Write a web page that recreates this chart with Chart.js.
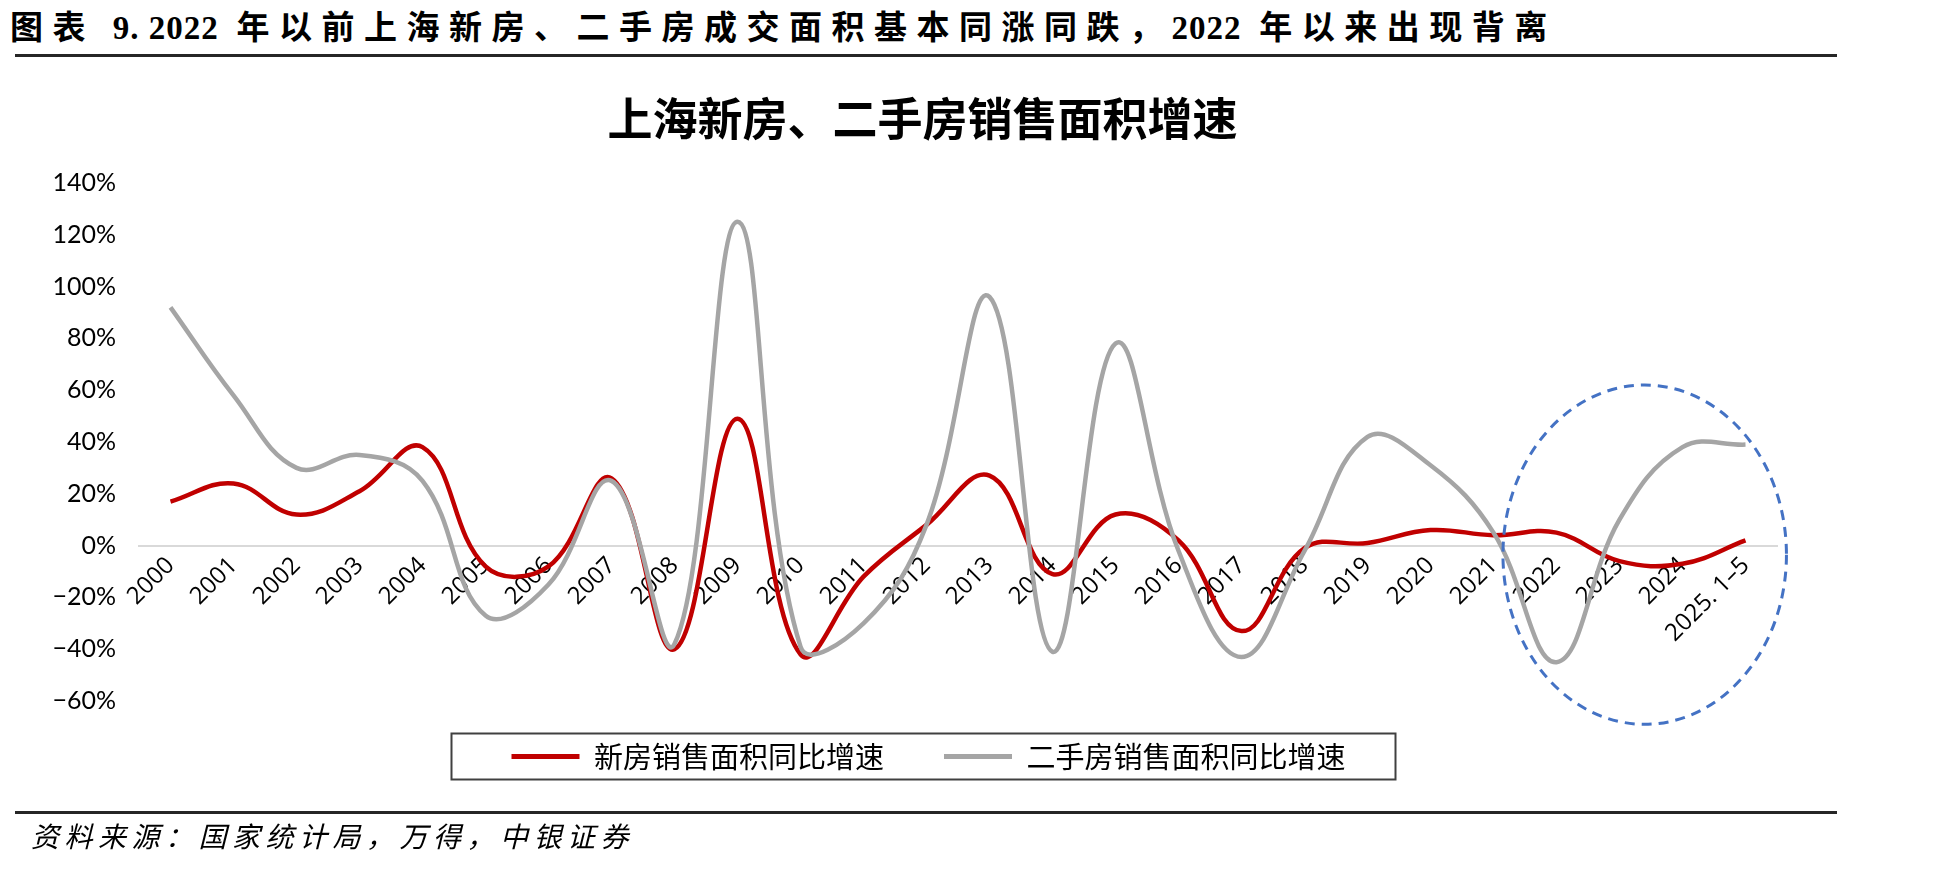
<!DOCTYPE html>
<html>
<head>
<meta charset="utf-8">
<title>上海新房、二手房销售面积增速</title>
<script src="https://cdn.jsdelivr.net/npm/chart.js@4.4.1/dist/chart.umd.min.js"></script>
<style>
  body { margin: 0; background: #fff; width: 1954px; height: 870px; overflow: hidden; position: relative; }
  #chart { position: absolute; left: 0; top: 0; }
  .header {
    position: absolute; left: 10px; top: 1px; line-height: 40px; white-space: nowrap;
    font: 700 33px "Liberation Serif", "Noto Sans CJK SC"; letter-spacing: 9.5px; color: #000;
  }
  .header .num { letter-spacing: 1px; }
  .rule { position: absolute; left: 15px; width: 1822px; height: 3px; background: #262626; }
  .source {
    position: absolute; left: 31px; top: 815px; line-height: 34px; white-space: nowrap;
    font: italic 28px "Noto Sans CJK SC"; letter-spacing: 5.5px; color: #000;
  }
</style>
</head>
<body>
<div class="header">图表 <span class="num">9. 2022</span> 年以前上海新房、二手房成交面积基本同涨同跌，<span class="num">2022</span> 年以来出现背离</div>
<div class="rule" style="top:54px"></div>
<canvas id="chart" width="1954" height="870"></canvas>
<div class="rule" style="top:811px"></div>
<div class="source">资料来源：国家统计局，万得，中银证券</div>

<script>
// Chart data (year-on-year growth, %)
const categories = [
  '2000', '2001', '2002', '2003', '2004', '2005', '2006', '2007', '2008', '2009',
  '2010', '2011', '2012', '2013', '2014', '2015', '2016', '2017', '2018', '2019',
  '2020', '2021', '2022', '2023', '2024', '2025. 1–5'
];
const newHomeGrowth = [17, 24, 12, 21, 38, -8, -8, 26, -40, 49, -42, -12, 8, 27, -11, 12, 2, -33, -1, 1, 6, 4, 5, -6, -7, 2];
const resaleGrowth = [92, 58, 30, 35, 25, -27, -15, 25, -38, 125, -39, -30, 8, 96, -41, 78, -2, -43, -2, 42, 31, 5, -45, 10, 38, 39];
const yTickValues = [-60, -40, -20, 0, 20, 40, 60, 80, 100, 120, 140];

const COLORS = {
  NEW: '#C00000',
  RESALE: '#A5A5A5',
  ZERO: '#D9D9D9',
  HIGHLIGHT: '#4472C4'
};

// small nudges applied after layout (px)
const LEGEND_LIFT = 19;
const LEGEND_SHIFT = 15;
const TITLE_SHIFT = 9;

/**
 * Dashed ellipse around the post-2022 divergence
 */
const highlightPlugin = {
  id: 'highlightEllipse',
  afterDatasetsDraw(chart) {
    const { ctx, scales: { x, y } } = chart;
    const cx = x.getPixelForValue(23.4);
    const cy = y.getPixelForValue(-3.5);
    const rx = x.getPixelForValue(25.65) - cx;
    const ry = cy - y.getPixelForValue(62);
    ctx.save();
    ctx.setLineDash([10, 7]);
    ctx.lineWidth = 3;
    ctx.strokeStyle = COLORS.HIGHLIGHT;
    ctx.beginPath();
    ctx.ellipse(cx, cy, rx, ry, 0, 0, Math.PI * 2);
    ctx.stroke();
    ctx.restore();
  }
};

/**
 * Nudge title and legend, then draw a frame round the legend
 */
const legendFramePlugin = {
  id: 'legendFrame',
  afterLayout(chart) {
    const legend = chart.legend;
    legend.top -= LEGEND_LIFT;
    legend.bottom -= LEGEND_LIFT;
    legend.left += LEGEND_SHIFT;
    legend.right += LEGEND_SHIFT;
    chart.titleBlock.left += TITLE_SHIFT;
    chart.titleBlock.right += TITLE_SHIFT;
  },
  afterDraw(chart) {
    const boxes = chart.legend.legendHitBoxes;
    if (!boxes || !boxes.length) return;
    const first = boxes[0];
    const last = boxes[boxes.length - 1];
    const midY = first.top + first.height / 2;
    const left = first.left - 60;
    const right = last.left + last.width + 50;
    const ctx = chart.ctx;
    ctx.save();
    ctx.lineWidth = 2;
    ctx.strokeStyle = '#404040';
    ctx.strokeRect(left, midY - 23, right - left, 46);
    ctx.restore();
  }
};

/**
 * Build the line chart
 */
function initGrowthChart() {
  const ctx = document.getElementById('chart').getContext('2d');

  new Chart(ctx, {
    type: 'line',
    data: {
      labels: categories,
      datasets: [{
        label: '新房销售面积同比增速',
        data: newHomeGrowth,
        borderColor: COLORS.NEW,
        backgroundColor: COLORS.NEW,
        borderWidth: 4.5,
        pointRadius: 0,
        tension: 0.4,
        order: 1
      }, {
        label: '二手房销售面积同比增速',
        data: resaleGrowth,
        borderColor: COLORS.RESALE,
        backgroundColor: COLORS.RESALE,
        borderWidth: 4.5,
        pointRadius: 0,
        tension: 0.4,
        order: 0
      }]
    },
    plugins: [highlightPlugin, legendFramePlugin],
    options: {
      responsive: false,
      animation: false,
      layout: {
        padding: { left: 50, right: 177, top: 92, bottom: 70 }
      },
      scales: {
        x: {
          position: { y: 0 },
          offset: true,
          grid: { display: false, drawTicks: false },
          border: { display: true, color: COLORS.ZERO, width: 2 },
          ticks: {
            autoSkip: false,
            minRotation: 45,
            maxRotation: 45,
            padding: 6,
            color: '#000',
            font: { family: "'Open Sans', sans-serif", size: 24 }
          },
          afterFit: (scale) => { scale.height = 0; }
        },
        y: {
          min: -60,
          max: 140,
          grid: { display: false, drawTicks: false },
          border: { display: false },
          afterBuildTicks: (scale) => {
            scale.ticks = yTickValues.map(v => ({ value: v }));
          },
          afterFit: (scale) => { scale.width = 89; },
          ticks: {
            padding: 23,
            color: '#000',
            font: { family: "Lato, sans-serif", size: 25 },
            callback: (v) => (v < 0 ? '−' + Math.abs(v) : v) + '%'
          }
        }
      },
      plugins: {
        title: {
          display: true,
          text: '上海新房、二手房销售面积增速',
          color: '#000',
          font: { family: "'Noto Sans CJK SC', sans-serif", size: 45, weight: 'bold' },
          padding: { top: 0, bottom: 37 }
        },
        legend: {
          position: 'bottom',
          reverse: true,
          labels: {
            boxWidth: 68,
            boxHeight: 5,
            padding: 60,
            color: '#000',
            font: { family: "'Noto Sans CJK SC', sans-serif", size: 29 },
            generateLabels: (chart) =>
              Chart.defaults.plugins.legend.labels.generateLabels(chart).map(item => ({ ...item, lineWidth: 0 }))
          }
        },
        tooltip: { enabled: false }
      }
    }
  });
}

initGrowthChart();
</script>
</body>
</html>
